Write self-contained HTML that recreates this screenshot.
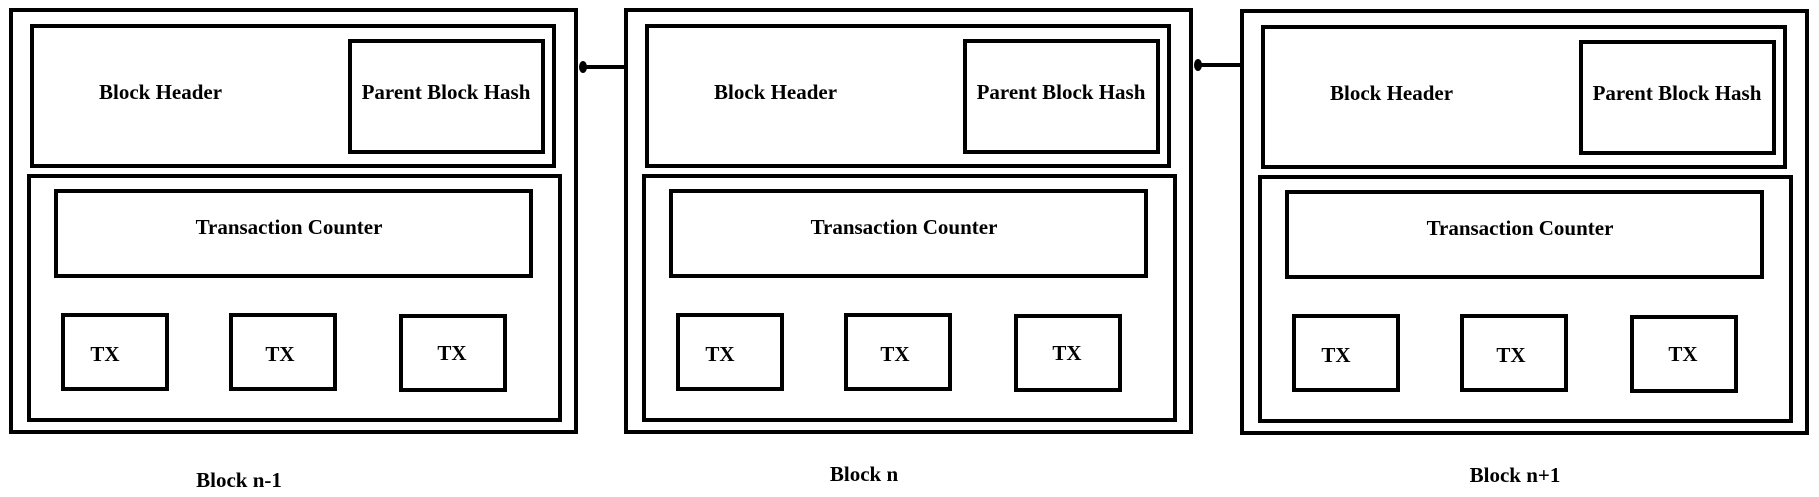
<!DOCTYPE html>
<html><head><meta charset="utf-8"><style>
html,body{margin:0;padding:0;background:#fff;}
svg{display:block}
text{font-family:"Liberation Serif",serif;font-weight:bold;font-size:21px;fill:#000;dominant-baseline:central}
</style></head><body>
<svg width="1819" height="497" viewBox="0 0 1819 497" xmlns="http://www.w3.org/2000/svg">
<defs>
<g id="blk" fill="none" stroke="#000" stroke-width="4">
<rect x="2" y="2" width="565" height="422"/>
<rect x="23" y="18" width="522" height="140"/>
<rect x="341" y="33" width="193" height="111"/>
<rect x="20" y="168" width="531" height="244"/>
<rect x="47" y="183" width="475" height="85"/>
<rect x="54" y="307" width="104" height="74"/>
<rect x="222" y="307" width="104" height="74"/>
<rect x="392" y="308" width="104" height="74"/>
</g>
</defs>
<g transform="translate(9,8)"><use href="#blk"/>
<text x="90" y="84">Block Header</text>
<text x="437" y="84" text-anchor="middle">Parent Block Hash</text>
<text x="280" y="219" text-anchor="middle">Transaction Counter</text>
<text x="96" y="346" text-anchor="middle">TX</text>
<text x="271" y="346" text-anchor="middle">TX</text>
<text x="443" y="345" text-anchor="middle">TX</text>
</g>
<g transform="translate(624,8)"><use href="#blk"/>
<text x="90" y="84">Block Header</text>
<text x="437" y="84" text-anchor="middle">Parent Block Hash</text>
<text x="280" y="219" text-anchor="middle">Transaction Counter</text>
<text x="96" y="346" text-anchor="middle">TX</text>
<text x="271" y="346" text-anchor="middle">TX</text>
<text x="443" y="345" text-anchor="middle">TX</text>
</g>
<g transform="translate(1240,9)"><use href="#blk"/>
<text x="90" y="84">Block Header</text>
<text x="437" y="84" text-anchor="middle">Parent Block Hash</text>
<text x="280" y="219" text-anchor="middle">Transaction Counter</text>
<text x="96" y="346" text-anchor="middle">TX</text>
<text x="271" y="346" text-anchor="middle">TX</text>
<text x="443" y="345" text-anchor="middle">TX</text>
</g>
<line x1="624" y1="67" x2="582" y2="67" stroke="#000" stroke-width="4"/>
<ellipse cx="583" cy="67" rx="4" ry="6" fill="#000"/>
<line x1="1240" y1="65" x2="1197" y2="65" stroke="#000" stroke-width="4"/>
<ellipse cx="1198" cy="65" rx="4" ry="6" fill="#000"/>
<text x="239" y="480" text-anchor="middle">Block n-1</text>
<text x="864" y="474" text-anchor="middle">Block n</text>
<text x="1515" y="475" text-anchor="middle">Block n+1</text>
</svg>
</body></html>
